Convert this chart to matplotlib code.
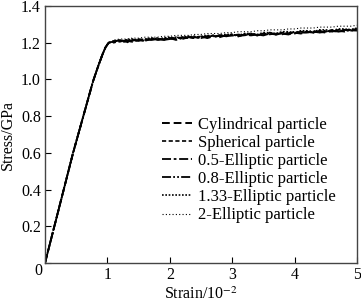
import matplotlib
matplotlib.use("Agg")
import matplotlib.pyplot as plt

plt.rcParams['font.family'] = ['Liberation Serif', 'DejaVu Serif']
plt.rcParams['mathtext.fontset'] = 'stix'

strain = [0, 0.45, 0.77, 0.85, 0.92, 0.97, 1.02, 1.08,
          1.1, 1.2, 1.3, 1.4, 1.5, 1.6, 1.7, 1.8, 1.9, 2.0,
          2.1, 2.2, 2.3, 2.4, 2.5, 2.6, 2.7, 2.8, 2.9, 3.0,
          3.1, 3.2, 3.3, 3.4, 3.5, 3.6, 3.7, 3.8, 3.9, 4.0,
          4.1, 4.2, 4.3, 4.4, 4.5, 4.6, 4.7, 4.8, 4.9, 5.0]

rise = [0, 0.60, 0.99, 1.07, 1.135, 1.175, 1.20, 1.205]

cyl = rise + [1.205, 1.215, 1.205, 1.215, 1.21, 1.22, 1.215, 1.22, 1.215, 1.225,
              1.22, 1.23, 1.225, 1.23, 1.225, 1.235, 1.23, 1.24, 1.235, 1.24,
              1.235, 1.245, 1.24, 1.245, 1.24, 1.25, 1.245, 1.25, 1.245, 1.255,
              1.25, 1.26, 1.255, 1.26, 1.255, 1.265, 1.26, 1.27, 1.265, 1.27]
sph = rise + [1.21, 1.205, 1.215, 1.21, 1.22, 1.215, 1.22, 1.215, 1.225, 1.22,
              1.23, 1.225, 1.23, 1.225, 1.235, 1.23, 1.24, 1.235, 1.24, 1.24,
              1.245, 1.24, 1.245, 1.24, 1.25, 1.245, 1.25, 1.245, 1.255, 1.25,
              1.26, 1.255, 1.26, 1.255, 1.265, 1.26, 1.265, 1.26, 1.27, 1.265]
e05 = rise + [1.20, 1.21, 1.21, 1.205, 1.215, 1.21, 1.225, 1.215, 1.22, 1.225,
              1.215, 1.225, 1.23, 1.225, 1.235, 1.225, 1.235, 1.24, 1.235, 1.245,
              1.24, 1.24, 1.25, 1.24, 1.245, 1.255, 1.245, 1.25, 1.25, 1.26,
              1.255, 1.255, 1.265, 1.255, 1.26, 1.27, 1.26, 1.265, 1.275, 1.27]
e08 = rise + [1.205, 1.215, 1.20, 1.215, 1.215, 1.21, 1.22, 1.225, 1.215, 1.22,
              1.23, 1.22, 1.23, 1.235, 1.225, 1.235, 1.24, 1.23, 1.24, 1.245,
              1.235, 1.245, 1.25, 1.24, 1.25, 1.25, 1.245, 1.255, 1.255, 1.25,
              1.26, 1.26, 1.255, 1.265, 1.265, 1.26, 1.27, 1.27, 1.265, 1.275]
e133 = rise + [1.21, 1.21, 1.215, 1.22, 1.215, 1.22, 1.225, 1.22, 1.225, 1.23,
               1.225, 1.23, 1.235, 1.23, 1.235, 1.24, 1.235, 1.24, 1.245, 1.245,
               1.24, 1.25, 1.25, 1.245, 1.255, 1.255, 1.25, 1.26, 1.26, 1.255,
               1.265, 1.265, 1.26, 1.27, 1.27, 1.265, 1.275, 1.275, 1.27, 1.28]
e2 = rise + [1.215, 1.22, 1.22, 1.225, 1.225, 1.23, 1.23, 1.23, 1.235, 1.235,
             1.24, 1.24, 1.24, 1.245, 1.245, 1.25, 1.25, 1.25, 1.255, 1.255,
             1.26, 1.26, 1.26, 1.265, 1.265, 1.27, 1.27, 1.27, 1.275, 1.275,
             1.28, 1.28, 1.28, 1.285, 1.285, 1.285, 1.29, 1.29, 1.29, 1.295]

labels = ['Cylindrical particle', 'Spherical particle', '0.5-Elliptic particle',
          '0.8-Elliptic particle', '1.33-Elliptic particle', '2-Elliptic particle']
series = [cyl, sph, e05, e08, e133, e2]
styles = [(0, (4, 2)), (0, (2.5, 1.5)), (0, (5, 1.5, 1.5, 1.5)), (0, (5, 1.2, 1, 1.2, 1, 1.2)),
          (0, (1, 1)), (0, (1, 2))]
widths = [1.4, 1.2, 1.3, 1.3, 1.2, 0.8]

fig = plt.figure(figsize=(3.61, 3.04), dpi=100)
ax = fig.add_axes([45/361, 1-263/304, 312/361, 257/304])

for ys, lab, ls, lw in zip(series, labels, styles, widths):
    ax.plot(strain, ys, color='black', linestyle=ls, linewidth=lw, label=lab)

ax.set_xlim(0, 5)
ax.set_ylim(0, 1.4)
ax.set_xticks([0, 1, 2, 3, 4, 5])
ax.set_xticklabels(['', '1', '2', '3', '4', '5'])
ax.set_yticks([0, 0.2, 0.4, 0.6, 0.8, 1.0, 1.2, 1.4])
ax.set_yticklabels(['', '0.2', '0.4', '0.6', '0.8', '1.0', '1.2', '1.4'])
ax.tick_params(direction='in', length=4, width=0.8, labelsize=11.5, pad=3)
ax.text(-0.02, -0.03, '0', transform=ax.transAxes, ha='center', va='center', fontsize=11.5)
for s in ax.spines.values():
    s.set_linewidth(1.0)
    s.set_color('#444444')

ax.set_xlabel('Strain/10$^{-2}$', fontsize=11.5, labelpad=2.5)
ax.set_ylabel('Stress/GPa', fontsize=11.5, labelpad=4)

ax.legend(loc='upper left', bbox_to_anchor=(0.375, 0.57), frameon=False,
          fontsize=12, handlelength=1.8, handletextpad=0.36, labelspacing=0.13,
          borderaxespad=0, borderpad=0)

fig.savefig('out.png', dpi=100)
